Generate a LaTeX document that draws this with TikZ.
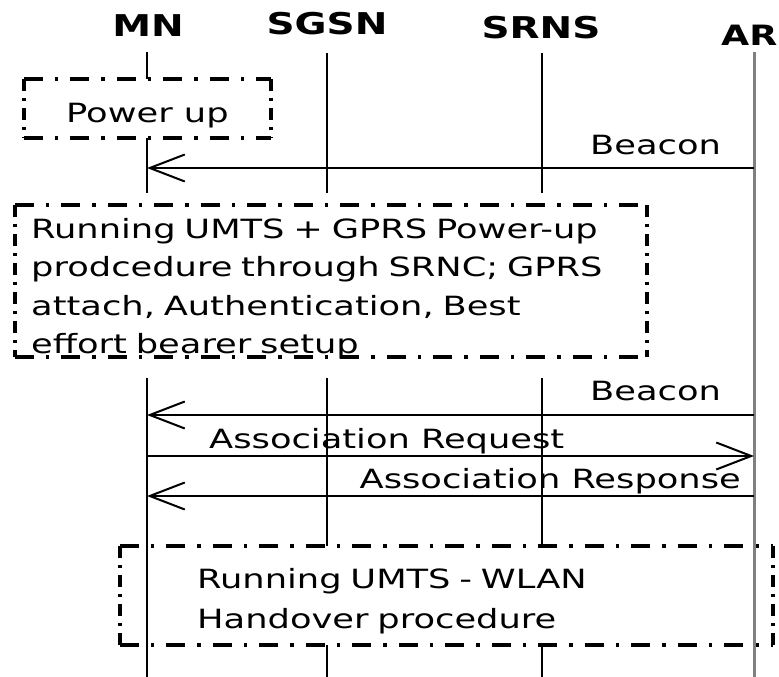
\documentclass[tikz,border=0pt]{standalone}
\usepackage{fontspec}
\usetikzlibrary{arrows.meta}
\newfontfamily\msgfont[FakeStretch=1.33]{DejaVu Sans}
\newfontfamily\headfont[FakeStretch=1.3]{DejaVu Sans}

\tikzset{
  head/.style={inner sep=0pt, anchor=base, font=\headfont\bfseries\fontsize{30}{34}\selectfont},
  lbl/.style={inner sep=0pt, font=\msgfont\fontsize{26.5}{38.5}\selectfont},
  life/.style={line width=2pt, draw=black},
  arlife/.style={line width=3pt, draw=black!50},
  msg/.style={line width=2pt, -{Straight Barb[length=35pt,width=27pt,line width=2pt]}},
  frame/.style={fill=white, draw=none, inner sep=0pt},
  hedge/.style={line width=3.5pt, dash pattern=on 19pt off 12pt on 3.5pt off 12pt},
  vedge/.style={line width=4pt, dash pattern=on 12pt off 7pt on 3pt off 7pt},
}

\begin{document}
\begin{tikzpicture}[x=1pt, y=-1pt]
  \useasboundingbox (0,0) rectangle (779,677);

  % entity headers
  \node[head] (hMN)   at (148,37) {MN};
  \node[head] (hSGSN) at (327,35) {SGSN};
  \node[head] (hSRNS) at (541,39) {SRNS};
  \node[head, anchor=base west, font=\headfont\bfseries\fontsize{28}{32}\selectfont] (hAR) at (721,46) {AR};

  % lifeline end points
  \coordinate (mnA) at (147,52);   \coordinate (mnB) at (147,193);
  \coordinate (mnC) at (147,378);  \coordinate (mnD) at (147,677);
  \coordinate (sgA) at (327,53);   \coordinate (sgB) at (327,193);
  \coordinate (sgC) at (327,378);  \coordinate (sgD) at (327,677);
  \coordinate (srA) at (542,53);   \coordinate (srB) at (542,193);
  \coordinate (srC) at (542,378);  \coordinate (srD) at (542,677);
  \coordinate (arA) at (754,52);   \coordinate (arD) at (754,677);

  % lifelines that the procedure boxes cover
  \draw[life] (mnA) -- (mnB);
  \draw[life] (sgA) -- (sgB);
  \draw[life] (sgC) -- (sgD);
  \draw[life] (srA) -- (srB);
  \draw[life] (srC) -- (srD);

  % procedure boxes
  \node[frame, minimum width=247pt, minimum height=59pt]  (pwr)  at (147.5,108.5) {};
  \node[frame, minimum width=632pt, minimum height=152pt] (umts) at (331,281) {};
  \node[frame, minimum width=653pt, minimum height=99pt]  (ho)   at (446.5,595.5) {};

  \foreach \b in {pwr,umts,ho}{
    \draw[hedge] (\b.north west) -- (\b.north east);
    \draw[hedge] (\b.south west) -- (\b.south east);
    \draw[vedge] (\b.north west) -- (\b.south west);
    \draw[vedge] (\b.north east) -- (\b.south east);
  }

  % lifelines drawn over the handover box
  \draw[life] (mnC) -- (mnD);
  \draw[arlife] (arA) -- (arD);

  % box texts
  \node[lbl, anchor=base west] (tPwr) at (66,122) {Power up};
  \node[lbl, anchor=base west, text width=620pt, align=left] (tUmts) at (31,238)
    {Running UMTS + GPRS Power-up\\
     prodcedure through SRNC; GPRS\\
     attach, Authentication, Best\\
     effort bearer setup};
  \node[lbl, anchor=base west, text width=560pt, align=left, font=\msgfont\fontsize{26.5}{40}\selectfont] (tHo) at (197,588)
    {Running UMTS - WLAN\\
     Handover procedure};

  % messages
  \coordinate (b1ar) at (754,168); \coordinate (b1mn) at (147,168);
  \coordinate (b2ar) at (754,415); \coordinate (b2mn) at (147,415);
  \coordinate (rqmn) at (147,456); \coordinate (rqar) at (754,456);
  \coordinate (rsar) at (754,496); \coordinate (rsmn) at (147,496);

  \draw[msg] (b1ar) -- (b1mn);
  \draw[msg] (b2ar) -- (b2mn);
  \draw[msg] (rqmn) -- (rqar);
  \draw[msg] (rsar) -- (rsmn);

  \node[lbl, anchor=base west] (lB1) at (590,154) {Beacon};
  \node[lbl, anchor=base west] (lB2) at (590,400) {Beacon};
  \node[lbl, anchor=base west] (lRq) at (209,448) {Association Request};
  \node[lbl, anchor=base east] (lRs) at (741,488) {Association Response};
\end{tikzpicture}
\end{document}
